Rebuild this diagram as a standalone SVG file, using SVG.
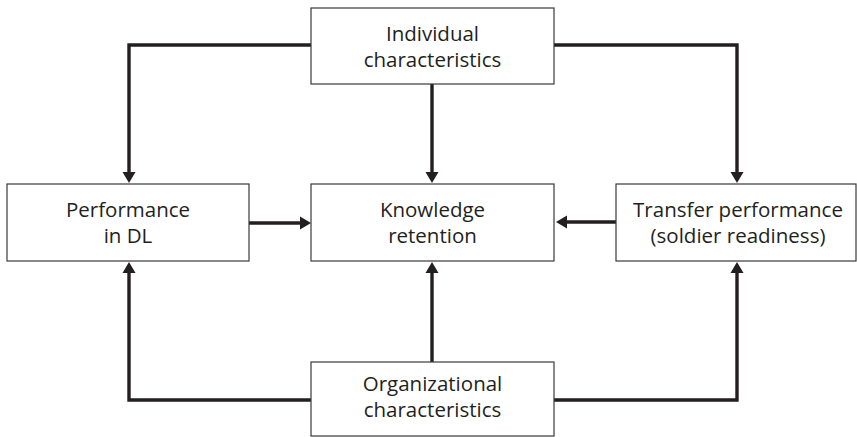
<svg xmlns="http://www.w3.org/2000/svg" width="857" height="437" viewBox="0 0 857 437">
  <style>
    .box { fill: #ffffff; stroke: #3a3a3a; stroke-width: 1.2; }
    .lbl { font-family: "Open Sans", "Noto Sans", sans-serif; font-size: 20.5px; fill: #231f20; text-anchor: middle; }
    .link { fill: none; stroke: #231f20; stroke-width: 3.4; stroke-linejoin: miter; stroke-linecap: butt; marker-end: url(#arrow); }
  </style>
  <defs>
    <marker id="arrow" markerUnits="userSpaceOnUse" markerWidth="13" markerHeight="13" refX="0" refY="6.5" orient="auto" overflow="visible">
      <path d="M0,0 L11,6.5 L0,13 Z" fill="#231f20"/>
    </marker>
  </defs>
  <rect width="857" height="437" fill="#ffffff"/>

  <g id="connectors">
    <!-- from individual characteristics -->
    <path class="link" d="M311,45 H129 V172"/>
    <path class="link" d="M432,84 V172"/>
    <path class="link" d="M554,45 H737 V172"/>
    <!-- from organizational characteristics -->
    <path class="link" d="M311,400 H129 V273"/>
    <path class="link" d="M432,362 V273"/>
    <path class="link" d="M554,400 H737 V273"/>
    <!-- into knowledge retention -->
    <path class="link" d="M249,223 H300"/>
    <path class="link" d="M616,222 H567"/>
  </g>

  <g id="individual">
    <rect class="box" x="311" y="8" width="243" height="76"/>
    <text class="lbl" x="432.5" y="41">Individual</text>
    <text class="lbl" x="432.5" y="67">characteristics</text>
  </g>

  <g id="performance">
    <rect class="box" x="7" y="184" width="242" height="77"/>
    <text class="lbl" x="128" y="217">Performance</text>
    <text class="lbl" x="128" y="243">in DL</text>
  </g>

  <g id="retention">
    <rect class="box" x="311" y="184" width="243" height="77"/>
    <text class="lbl" x="432.5" y="217">Knowledge</text>
    <text class="lbl" x="432.5" y="243">retention</text>
  </g>

  <g id="transfer">
    <rect class="box" x="616" y="184" width="240" height="77"/>
    <text class="lbl" x="738" y="217">Transfer performance</text>
    <text class="lbl" x="738" y="243">(soldier readiness)</text>
  </g>

  <g id="organizational">
    <rect class="box" x="311" y="362" width="243" height="74"/>
    <text class="lbl" x="432.5" y="391">Organizational</text>
    <text class="lbl" x="432.5" y="417">characteristics</text>
  </g>
</svg>
